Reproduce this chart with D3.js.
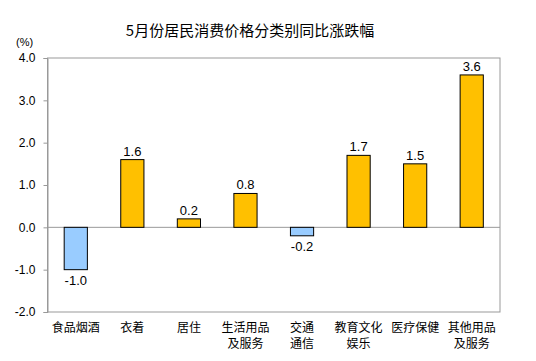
<!DOCTYPE html>
<html>
<head>
<meta charset="utf-8">
<title>5月份居民消费价格分类别同比涨跌幅</title>
<script src="https://d3js.org/d3.v7.min.js"></script>
<style>
    body { margin: 0; background: #fff; }
    svg { font-family: "Liberation Sans", Arial, "Noto Sans CJK SC", sans-serif; }
    .cjk { font-family: "Noto Sans CJK SC", sans-serif; }
</style>
</head>
<body>
<div id="chart"></div>
<script>
// data
const categories = [
    ["食品烟酒"], ["衣着"], ["居住"], ["生活用品", "及服务"],
    ["交通", "通信"], ["教育文化", "娱乐"], ["医疗保健"], ["其他用品", "及服务"]
];
const values = [-1.0, 1.6, 0.2, 0.8, -0.2, 1.7, 1.5, 3.6];
const yTicks = [-2, -1, 0, 1, 2, 3, 4];

const width = 536, height = 361;
const margin = {left: 47.5, right: 36, top: 58, bottom: 49};

// plain hyphen for negatives, like the original
const fmt = d3.formatLocale({decimal: ".", thousands: ",", grouping: [3], currency: ["", ""], minus: "-"}).format(".1f");

const svg = d3.select("#chart").append("svg")
    .attr("width", width)
    .attr("height", height);

const x = d3.scaleBand()
    .domain(d3.range(categories.length))
    .range([margin.left, width - margin.right])
    .paddingInner(0.59)
    .paddingOuter(0.295);

const y = d3.scaleLinear()
    .domain([-2, 4])
    .range([height - margin.bottom, margin.top]);

// title
svg.append("text")
    .attr("class", "cjk")
    .attr("x", 250)
    .attr("y", 36)
    .attr("text-anchor", "middle")
    .style("font-size", "15px")
    .attr("fill", "#000")
    .text("5月份居民消费价格分类别同比涨跌幅");

svg.append("text")
    .attr("x", 16)
    .attr("y", 46)
    .style("font-size", "11px")
    .attr("fill", "#000")
    .text("(%)");

// plot frame
svg.append("rect")
    .attr("x", margin.left)
    .attr("y", y(4))
    .attr("width", width - margin.right - margin.left)
    .attr("height", y(-2) - y(4))
    .attr("fill", "none")
    .attr("stroke", "#999");

// y axis
const yAxis = svg.append("g")
    .attr("transform", `translate(${margin.left},0)`)
    .call(d3.axisLeft(y).tickValues(yTicks).tickFormat(fmt).tickSize(4).tickPadding(8));
yAxis.select(".domain").attr("stroke", "#999");
yAxis.selectAll(".tick line").attr("stroke", "#999");
yAxis.selectAll(".tick text")
    .attr("fill", "#000")
    .style("font-size", "12px")
    .style("font-family", "'Liberation Sans', Arial, sans-serif");

// zero line
svg.append("line")
    .attr("x1", margin.left)
    .attr("x2", width - margin.right)
    .attr("y1", y(0))
    .attr("y2", y(0))
    .attr("stroke", "#999");

// bars
svg.append("g")
    .selectAll("rect")
    .data(values)
    .join("rect")
    .attr("x", (d, i) => x(i))
    .attr("width", x.bandwidth())
    .attr("y", d => y(Math.max(0, d)))
    .attr("height", d => Math.abs(y(d) - y(0)))
    .attr("fill", d => d < 0 ? "#99CCFF" : "#FFC000")
    .attr("stroke", "#000")
    .attr("stroke-width", 1);

// value labels
svg.append("g")
    .selectAll("text")
    .data(values)
    .join("text")
    .attr("x", (d, i) => x(i) + x.bandwidth() / 2)
    .attr("y", d => d < 0 ? y(d) + 15 : y(d) - 4)
    .attr("text-anchor", "middle")
    .style("font-size", "13px")
    .attr("fill", "#000")
    .text(d => fmt(d));

// category labels
const cat = svg.append("g")
    .selectAll("text")
    .data(categories)
    .join("text")
    .attr("class", "cjk")
    .attr("text-anchor", "middle")
    .style("font-size", "12px")
    .attr("fill", "#000");
cat.each(function(lines, i) {
    const t = d3.select(this);
    lines.forEach((s, j) => {
        t.append("tspan")
            .attr("x", x(i) + x.bandwidth() / 2)
            .attr("y", 332 + j * 16)
            .text(s);
    });
});
</script>
</body>
</html>
